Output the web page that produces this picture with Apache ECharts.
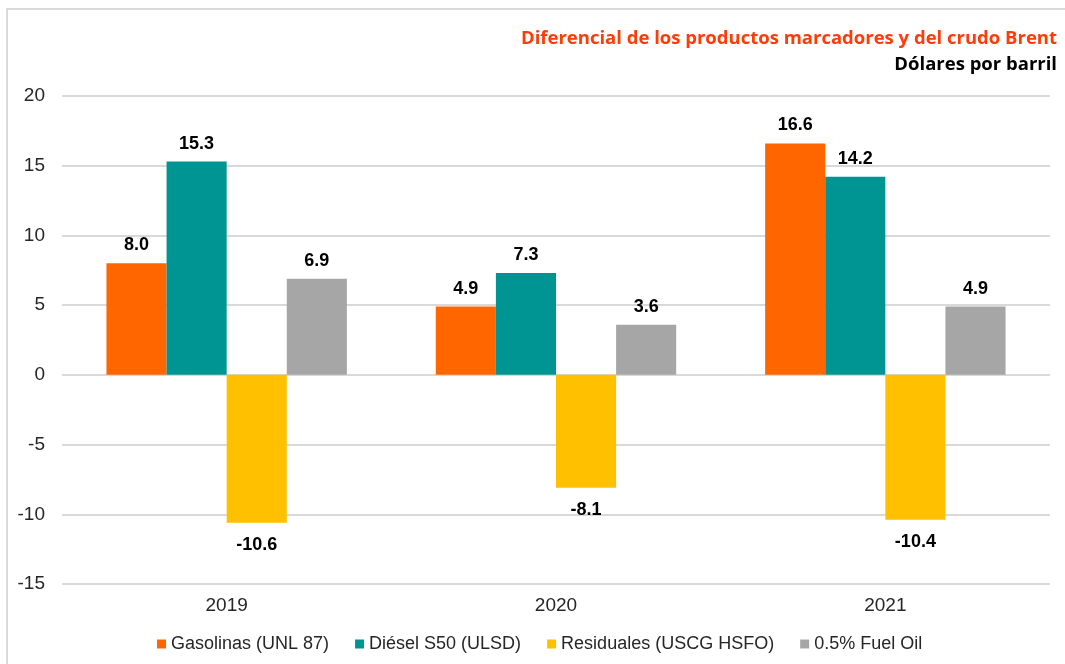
<!DOCTYPE html>
<html>
<head>
<meta charset="utf-8">
<script src="https://cdn.jsdelivr.net/npm/echarts@6/dist/echarts.min.js"></script>
<style>
  html, body { margin: 0; padding: 0; background: #fff; }
  #chart { width: 1065px; height: 664px; }
  #frame {
    position: absolute; left: 6px; top: 8px; right: 0; bottom: 0;
    border-left: 2px solid #d9d9d9; border-top: 2px solid #d9d9d9;
    pointer-events: none;
  }
</style>
</head>
<body>
<div id="chart"></div>
<div id="frame"></div>
<script>
const years = ['2019', '2020', '2021'];
const gasolinas = [8.0, 4.9, 16.6];
const diesel = [15.3, 7.3, 14.2];
const residuales = [-10.6, -8.1, -10.4];
const fuelOil = [6.9, 3.6, 4.9];

const seriesNames = ['Gasolinas (UNL 87)', 'Diésel S50 (ULSD)', 'Residuales (USCG HSFO)', '0.5% Fuel Oil'];
const seriesColors = ['#ff6600', '#009593', '#ffc000', '#a6a6a6'];
const seriesData = [gasolinas, diesel, residuales, fuelOil];

const font = 'Liberation Sans, Arial, sans-serif';
const chart = echarts.init(document.getElementById('chart'), null, { renderer: 'canvas' });

chart.setOption({
  animation: false,
  title: [
    {
      text: 'Diferencial de los productos marcadores y del crudo Brent',
      right: 3,
      top: 24,
      textStyle: { color: '#ff3b0a', fontSize: 18.5, fontWeight: 'bold', fontFamily: 'Open Sans, Noto Sans, sans-serif' },
    },
    {
      text: 'Dólares por barril',
      right: 3,
      top: 50,
      textStyle: { color: '#000', fontSize: 18.5, fontWeight: 'bold', fontFamily: 'Open Sans, Noto Sans, sans-serif' },
    },
  ],
  grid: { left: 62, right: 15, top: 96, bottom: 80 },
  legend: {
    bottom: 6,
    left: 152,
    icon: 'rect',
    itemWidth: 9,
    itemHeight: 9,
    itemGap: 26,
    textStyle: { fontSize: 18, color: '#262626', fontFamily: font },
    data: seriesNames,
  },
  xAxis: {
    type: 'category',
    data: years,
    axisLine: { show: false },
    axisTick: { show: false },
    axisLabel: { fontSize: 19, color: '#262626', margin: 12, fontFamily: font },
  },
  yAxis: {
    type: 'value',
    min: -15,
    max: 20,
    interval: 5,
    axisLine: { show: false },
    axisTick: { show: false },
    axisLabel: { fontSize: 19, color: '#262626', margin: 17, fontFamily: font },
    splitLine: { lineStyle: { color: '#d9d9d9', width: 2 } },
  },
  series: seriesNames.map((name, i) => ({
    name,
    type: 'bar',
    data: seriesData[i],
    barGap: '0%',
    barCategoryGap: '27%',
    itemStyle: { color: seriesColors[i] },
    label: {
      show: true,
      position: i === 2 ? 'bottom' : 'top',
      distance: i === 2 ? 13 : 9,
      fontFamily: font,
      fontSize: 18,
      fontWeight: 'bold',
      color: '#000',
      formatter: (p) => p.value.toFixed(1),
    },
  })),
});
</script>
</body>
</html>
